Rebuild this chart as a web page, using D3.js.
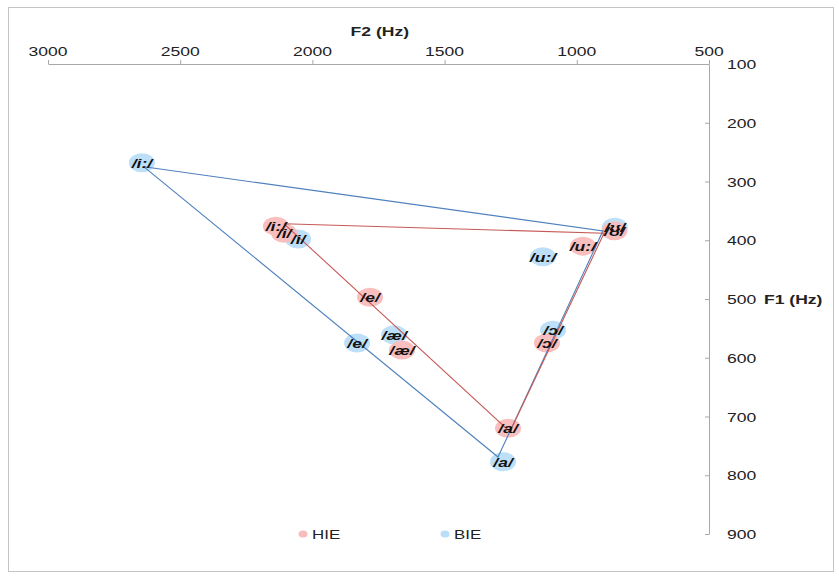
<!DOCTYPE html>
<html>
<head>
<meta charset="utf-8">
<script src="https://cdn.jsdelivr.net/npm/d3@7/dist/d3.min.js"></script>
<style>
  html, body { margin: 0; padding: 0; background: #fff; }
  svg { display: block; font-family: "Liberation Sans", Arial, sans-serif; }
</style>
</head>
<body>
<svg id="chart" width="839" height="576"></svg>
<script>
// ---- Data (F2 Hz, F1 Hz) ----
const f2Ticks = [3000, 2500, 2000, 1500, 1000, 500];
const f1Ticks = [100, 200, 300, 400, 500, 600, 700, 800, 900];

const hieVowels = ["/i:/", "/i/", "/e/", "/æ/", "/a/", "/ɔ/", "/u:/", "/ʊ/"];
const hieF2 = [2138, 2107, 1782, 1661, 1260, 1113, 977, 858];
const hieF1 = [376, 388, 497, 587, 720, 575, 410, 384];

const bieVowels = ["/i:/", "/i/", "/e/", "/æ/", "/a/", "/ɔ/", "/u:/", "/ʊ/"];
const bieF2 = [2645, 2054, 1831, 1691, 1279, 1090, 1128, 856];
const bieF1 = [268, 398, 575, 561, 777, 553, 428, 378];

// vowel triangle corners (/i:/ , /ʊ/ , /a/)
const hieTriF2 = [2107, 897, 1253];
const hieTriF1 = [372, 388, 726];
const bieTriF2 = [2637, 901, 1298];
const bieTriF1 = [275, 384, 769];

const seriesNames = ["HIE", "BIE"];

// ---- Setup ----
const svg = d3.select("#chart");
const SX = 1.3; // horizontal text stretch of the reference
const x = d3.scaleLinear().domain([3000, 500]).range([48, 709]);
const y = d3.scaleLinear().domain([100, 900]).range([64, 534]);

const colors = {
  HIE: { fill: "#f9bcbc", line: "#c65a57" },
  BIE: { fill: "#b9def8", line: "#4f81bd" }
};

function sText(g, tx, ty, str, opts = {}) {
  return g.append("text")
    .attr("transform", `translate(${tx},${ty}) scale(${SX},1)`)
    .attr("text-anchor", opts.anchor || "start")
    .attr("font-size", opts.size || 13)
    .attr("font-weight", opts.weight || "normal")
    .attr("font-style", opts.style || "normal")
    .attr("fill", opts.fill || "#222")
    .text(str);
}

// frame
svg.append("rect")
  .attr("x", 8.5).attr("y", 7.5).attr("width", 825).attr("height", 564)
  .attr("fill", "none").attr("stroke", "#c4c4c4");

// axes
const axisColor = "#a8a8a8";
const xAxis = svg.append("g").attr("transform", `translate(0,${y(100)})`)
  .call(d3.axisTop(x).tickValues(f2Ticks).tickSize(4).tickSizeOuter(0).tickFormat(""));
const yAxis = svg.append("g").attr("transform", `translate(${x(500)},0)`)
  .call(d3.axisRight(y).tickValues(f1Ticks).tickSizeInner(-4).tickSizeOuter(0).tickFormat(""));
[xAxis, yAxis].forEach(a => {
  a.selectAll("path, line").attr("stroke", axisColor);
});

const labels = svg.append("g");
f2Ticks.forEach(v => sText(labels, x(v), 56, String(v), { anchor: "middle", size: 13.5 }));
f1Ticks.forEach(v => sText(labels, 727, y(v) + 5, String(v), { size: 13.5 }));
sText(labels, x(1745), 36, "F2 (Hz)", { anchor: "middle", size: 13.5, weight: "bold" });
sText(labels, 764, y(500) + 5, "F1 (Hz)", { size: 13.5, weight: "bold" });

// markers
function vowelPoints(names, f2, f1) {
  return names.map((n, i) => ({ name: n, f2: f2[i], f1: f1[i] }));
}
const bie = vowelPoints(bieVowels, bieF2, bieF1);
const hie = vowelPoints(hieVowels, hieF2, hieF1);

const markers = svg.append("g");
[["BIE", bie], ["HIE", hie]].forEach(([s, pts]) => {
  markers.selectAll(null).data(pts).enter().append("ellipse")
    .attr("cx", d => x(d.f2)).attr("cy", d => y(d.f1))
    .attr("rx", 13).attr("ry", 9.5)
    .attr("fill", colors[s].fill).attr("opacity", 0.95);
});

// triangles
const line = d3.line().x(d => x(d[0])).y(d => y(d[1]));
function tri(f2, f1) {
  const p = f2.map((v, i) => [v, f1[i]]);
  return p.concat([p[0]]);
}
svg.append("path").attr("d", line(tri(bieTriF2, bieTriF1)))
  .attr("fill", "none").attr("stroke", colors.BIE.line).attr("stroke-width", 1.1);
svg.append("path").attr("d", line(tri(hieTriF2, hieTriF1)))
  .attr("fill", "none").attr("stroke", colors.HIE.line).attr("stroke-width", 1.1);

// data labels
const dl = svg.append("g");
[bie, hie].forEach(pts => {
  pts.forEach(d => sText(dl, x(d.f2), y(d.f1) + 5, d.name,
    { anchor: "middle", size: 13.5, weight: "bold", style: "italic", fill: "#111" }));
});

// legend
const leg = svg.append("g");
const legX = [303, 445];
seriesNames.forEach((s, i) => {
  leg.append("ellipse").attr("cx", legX[i]).attr("cy", 534)
    .attr("rx", 4.5).attr("ry", 3.5).attr("fill", colors[s].fill);
  sText(leg, legX[i] + 9, 539, s, { size: 13 });
});
</script>
</body>
</html>
